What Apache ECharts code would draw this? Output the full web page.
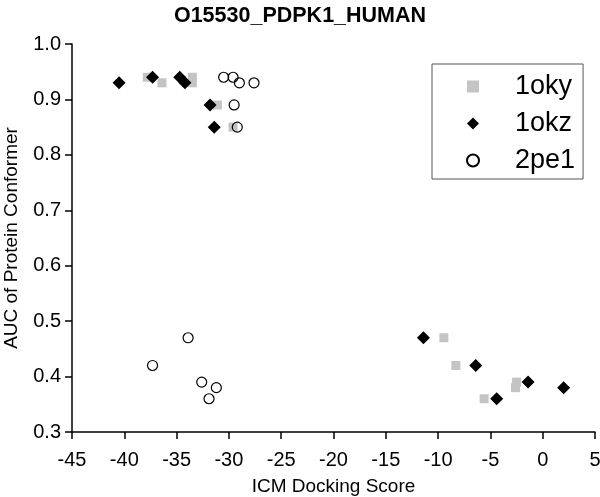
<!DOCTYPE html>
<html>
<head>
<meta charset="utf-8">
<script src="https://cdn.jsdelivr.net/npm/echarts@6/dist/echarts.min.js"></script>
<style>html,body{margin:0;padding:0;background:#fff;}#c{width:600px;height:497px;}</style>
</head>
<body>
<div id="c"></div>
<script>
var titleText = 'O15530_PDPK1_HUMAN';
var xName = 'ICM Docking Score';
var yName = 'AUC of Protein Conformer';
var seriesNames = ['1oky', '1okz', '2pe1'];

var okyX = [-37.8, -36.4, -33.5, -33.5, -31.1, -29.6, -9.45, -8.3, -5.6, -2.5, -2.6];
var okyY = [0.94, 0.93, 0.94, 0.93, 0.89, 0.85, 0.47, 0.42, 0.36, 0.39, 0.38];

var okzX = [-40.5, -37.3, -34.7, -34.2, -31.8, -31.4, -11.4, -6.4, -4.4, -1.4, 2.0];
var okzY = [0.93, 0.94, 0.94, 0.93, 0.89, 0.85, 0.47, 0.42, 0.36, 0.39, 0.38];

var pe1X = [-30.5, -29.6, -29.0, -27.6, -29.5, -29.2, -33.9, -37.3, -32.6, -31.2, -31.9];
var pe1Y = [0.94, 0.94, 0.93, 0.93, 0.89, 0.85, 0.47, 0.42, 0.39, 0.38, 0.36];

function pairs(xs, ys) { return xs.map(function (x, i) { return [x, ys[i]]; }); }

var FONT = 'Liberation Sans, Arial, sans-serif';
var chart = echarts.init(document.getElementById('c'), null, {renderer: 'canvas'});
chart.setOption({
  backgroundColor: '#fff',
  animation: false,
  title: {
    text: titleText, left: 'center', top: 0,
    textStyle: {fontFamily: FONT, fontSize: 21.5, fontWeight: 'bold', color: '#000'}
  },
  legend: {
    data: seriesNames,
    orient: 'vertical',
    left: 432, top: 64,
    backgroundColor: '#fff',
    borderColor: '#555', borderWidth: 1,
    padding: [9, 8, 5, 34],
    itemWidth: 12, itemHeight: 12,
    itemGap: 10,
    textStyle: {fontFamily: FONT, fontSize: 27, color: '#000', lineHeight: 27, padding: [0, 0, 0, 31]}
  },
  grid: {left: 72, right: 5, top: 44, bottom: 65, containLabel: false, outerBoundsMode: 'none'},
  xAxis: {
    type: 'value', min: -45, max: 5, interval: 5,
    name: xName, nameLocation: 'middle', nameGap: 45,
    nameTextStyle: {fontFamily: FONT, fontSize: 19, color: '#000'},
    axisLine: {show: true, onZero: false, lineStyle: {color: '#000', width: 1.5}},
    axisTick: {show: true, inside: false, length: 7, lineStyle: {color: '#000', width: 1.5}},
    axisLabel: {fontFamily: FONT, fontSize: 20, color: '#000', margin: 18},
    splitLine: {show: false}
  },
  yAxis: {
    type: 'value', min: 0.3, max: 1.0, interval: 0.1,
    name: yName, nameLocation: 'middle', nameGap: 51,
    nameTextStyle: {fontFamily: FONT, fontSize: 19, color: '#000'},
    axisLine: {show: true, onZero: false, lineStyle: {color: '#000', width: 1.5}},
    axisTick: {show: true, inside: false, length: 7, lineStyle: {color: '#000', width: 1.5}},
    axisLabel: {fontFamily: FONT, fontSize: 20, color: '#000', margin: 11,
      formatter: function (v) { return v.toFixed(1); }},
    splitLine: {show: false}
  },
  series: [
    {name: seriesNames[0], type: 'scatter', symbol: 'rect', symbolSize: 9,
     itemStyle: {color: '#c4c4c4', opacity: 1}, data: pairs(okyX, okyY)},
    {name: seriesNames[1], type: 'scatter', symbol: 'diamond', symbolSize: 13,
     itemStyle: {color: '#000', opacity: 1}, data: pairs(okzX, okzY)},
    {name: seriesNames[2], type: 'scatter', symbol: 'circle', symbolSize: 10,
     itemStyle: {color: 'rgba(255,255,255,0)', borderColor: '#000', borderWidth: 1.2, opacity: 1},
     data: pairs(pe1X, pe1Y)}
  ]
});
</script>
</body>
</html>
